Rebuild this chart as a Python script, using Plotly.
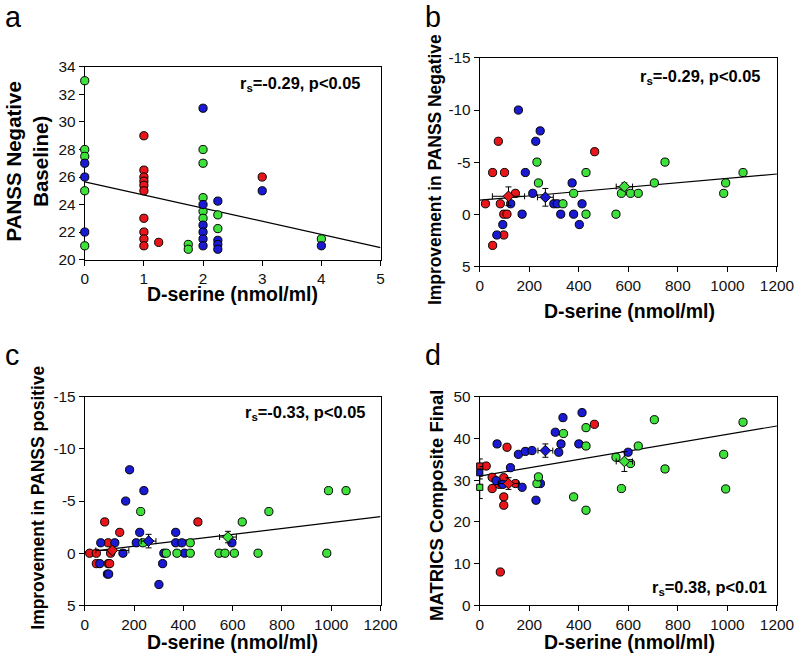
import plotly.graph_objects as go

RED = "#e8161b"
BLUE = "#1a1ad2"
GREEN = "#3ee03a"

# ---------------- Panel a ----------------
a_red_x = [1, 1, 1, 1, 1, 1, 1, 1, 1, 1, 1.25, 3]
a_red_y = [29, 26.5, 26, 25.7, 25.4, 25, 23, 22, 21.5, 21, 21.25, 26]
a_blue_x = [0, 0, 0, 2, 2, 2, 2, 2, 2, 2.25, 2.25, 2.25, 2.25, 3, 4]
a_blue_y = [27, 26, 22, 31, 24, 22.5, 22, 21.5, 21, 24.25, 21.4, 21.1, 20.75, 25, 21]
a_green_x = [0, 0, 0, 0, 0, 1.75, 1.75, 2, 2, 2, 2, 2, 2.25, 2.25, 4]
a_green_y = [33, 28, 27.5, 25, 21, 21.1, 20.75, 28, 27, 24.5, 23.5, 23, 23.25, 22.25, 21.5]
a_line_x = [0, 5]
a_line_y = [25.65, 20.87]

# ---------------- Panel b ----------------
b_red_x = [23, 52, 75, 83, 100, 97, 110, 97, 52, 144, 464]
b_red_y = [-1, -4, -7, -1, -4, 0, 0, 2, 3, -2, -6]
b_blue_x = [156, 125, 69, 93, 171, 184, 214, 226, 244, 299, 313, 327, 373, 379, 413, 402]
b_blue_y = [-10, -1, 2, 1, 0, -4, -2, -7, -8, -1, -1, 0, -3, 0, -1, 1]
b_green_x = [231, 237, 336, 379, 429, 429, 550, 572, 609, 640, 705, 748, 985, 993, 1063]
b_green_y = [-5, -3, -1, -2, -4, 0, 0, -2, -2, -2, -3, -5, -2, -3, -4]
b_mean_x = [116, 265, 584]
b_mean_y = [-1.72, -1.62, -2.65]
b_mean_ex = [65, 32, 33]
b_mean_ey = [0.9, 0.85, 0.35]
b_line_x = [0, 1200]
b_line_y = [-1.34, -3.86]

# ---------------- Panel c ----------------
c_red_x = [20, 47, 81, 95, 105, 142, 47, 95, 101, 459]
c_red_y = [0, 0, -3, -1, 0, -2, 1, 1, 1, -3]
c_blue_x = [65, 122, 155, 166, 182, 209, 223, 240, 61, 92, 97, 301, 316, 321, 369, 369, 394, 405, 597]
c_blue_y = [-1, -1, 0, -5, -8, -1, -2, -6, 1, 2, 2, 3, 1, 0, -2, -1, -1, 0, -1]
c_green_x = [227, 236, 331, 374, 428, 428, 545, 569, 607, 639, 703, 747, 982, 989, 1060]
c_green_y = [-4, -1, 0, 0, -1, 0, 0, 0, 0, -3, 0, -4, 0, -6, -6]
c_mean_x = [112, 259, 581]
c_mean_y = [-0.27, -1.16, -1.55]
c_mean_ex = [67, 30, 34]
c_mean_ey = [0.3, 0.65, 0.55]
c_line_x = [0, 1200]
c_line_y = [-0.1, -3.5]

# ---------------- Panel d ----------------
d_red_x = [26, 50, 50, 79, 97, 97, 97, 110, 144, 83, 463]
d_red_y = [33.4, 30.7, 28, 29, 30.6, 26, 24, 37.9, 29.2, 8, 43.4]
d_blue_x = [70, 156, 184, 211, 319, 328, 305, 400, 413, 336, 124, 66, 93, 171, 227, 245, 599]
d_blue_y = [38.7, 36.2, 36.9, 37.1, 36.7, 38.7, 41.5, 38.7, 46.2, 45, 33, 29.9, 29, 28.3, 25.2, 29.2, 36.7]
d_green_x = [338, 429, 429, 231, 237, 379, 429, 550, 572, 609, 640, 705, 748, 985, 993, 1063]
d_green_y = [41.2, 38.2, 42.6, 29.2, 30.8, 26, 22.8, 35.5, 28, 34, 38.2, 44.5, 32.7, 36.2, 27.9, 43.9]
d_mean_x = [116, 265, 584]
d_mean_y = [29.2, 37.1, 34.5]
d_mean_ex = [41, 30, 33]
d_mean_ey = [1.4, 1.6, 2.4]
d_base_x = [0, 0, 0]
d_base_y = [33.4, 31.8, 28.3]
d_base_ey = [1.7, 1.5, 2.7]
d_line_x = [0, 1200]
d_line_y = [31.0, 43.0]

GROUP_COLORS = [RED, BLUE, GREEN]

# Observed capture: picture = offset + K * page pixel; place everything
# in picture pixels and convert back to page pixels.
K = 0.975
OX, OY = 4.2, 9.3
W, H = 817, 665


def PX(x):
    return ((x - OX) / K) / W


def PY(y):
    return 1 - ((y - OY) / K) / H


def FS(s):
    return s / K


fig = go.Figure()


def add_points(x, y, color, ax):
    fig.add_trace(go.Scatter(
        x=x, y=y, mode="markers", xaxis="x" + ax, yaxis="y" + ax,
        marker=dict(size=FS(8), color=color, line=dict(color="black", width=1)),
        cliponaxis=False, showlegend=False, hoverinfo="skip"))


def add_line(x, y, ax):
    fig.add_trace(go.Scatter(
        x=x, y=y, mode="lines", xaxis="x" + ax, yaxis="y" + ax,
        line=dict(color="black", width=1.2), showlegend=False, hoverinfo="skip"))


def add_means(x, y, ex, ey, ax, symbol="diamond", size=8):
    for i in range(len(x)):
        if ex is not None:
            err_x = dict(type="data", array=[ex[i]], color="black", thickness=1, width=3)
        else:
            err_x = dict(visible=False)
        fig.add_trace(go.Scatter(
            x=[x[i]], y=[y[i]], mode="markers", xaxis="x" + ax, yaxis="y" + ax,
            marker=dict(size=FS(size), symbol=symbol, color=GROUP_COLORS[i],
                        line=dict(color="black", width=1)),
            error_x=err_x,
            error_y=dict(type="data", array=[ey[i]], color="black", thickness=1, width=3),
            cliponaxis=False, showlegend=False, hoverinfo="skip"))


# Panel a
add_line(a_line_x, a_line_y, "")
add_points(a_red_x, a_red_y, RED, "")
add_points(a_green_x, a_green_y, GREEN, "")
add_points(a_blue_x, a_blue_y, BLUE, "")

# Panel b
add_line(b_line_x, b_line_y, "2")
add_points(b_red_x, b_red_y, RED, "2")
add_points(b_blue_x, b_blue_y, BLUE, "2")
add_points(b_green_x, b_green_y, GREEN, "2")
add_means(b_mean_x, b_mean_y, b_mean_ex, b_mean_ey, "2")

# Panel c
add_line(c_line_x, c_line_y, "3")
add_points(c_red_x, c_red_y, RED, "3")
add_points(c_blue_x, c_blue_y, BLUE, "3")
add_points(c_green_x, c_green_y, GREEN, "3")
add_means(c_mean_x, c_mean_y, c_mean_ex, c_mean_ey, "3")

# Panel d
add_line(d_line_x, d_line_y, "4")
add_points(d_red_x, d_red_y, RED, "4")
add_points(d_blue_x, d_blue_y, BLUE, "4")
add_points(d_green_x, d_green_y, GREEN, "4")
add_means(d_mean_x, d_mean_y, d_mean_ex, d_mean_ey, "4")
add_means(d_base_x, d_base_y, None, d_base_ey, "4", symbol="square", size=6)

FONT = "Liberation Sans, Arial, sans-serif"


def axis(domain, rng, tickvals, ticktext=None, anchor=None):
    d = dict(domain=domain, range=rng, tickvals=tickvals, showgrid=False, zeroline=False,
             showline=True, linecolor="black", linewidth=1, mirror=True,
             ticks="outside", ticklen=5, tickcolor="black", tickwidth=1,
             tickfont=dict(family=FONT, size=FS(15), color="#111"), layer="below traces",
             anchor=anchor)
    if ticktext is not None:
        d["ticktext"] = ticktext
    return d


neg_vals = [-15, -10, -5, 0, 5]
neg_text = ["-15", "-10", "-5", "0", "5"]
ser_vals = [0, 200, 400, 600, 800, 1000, 1200]

XL = [PX(85), PX(381)]
XR = [PX(480.3), PX(777.7)]

fig.update_layout(
    width=W, height=H, margin=dict(l=0, r=0, t=0, b=0),
    paper_bgcolor="white", plot_bgcolor="white",
    font=dict(family=FONT, color="black"),
    xaxis=axis(XL, [0, 5], [0, 1, 2, 3, 4, 5], anchor="y"),
    yaxis=axis([PY(260), PY(67.3)], [20, 34], list(range(20, 35, 2)), anchor="x"),
    xaxis2=axis(XR, [0, 1200], ser_vals, anchor="y2"),
    yaxis2=axis([PY(266.7), PY(58.3)], [5, -15], neg_vals, neg_text, anchor="x2"),
    xaxis3=axis(XL, [0, 1200], ser_vals, anchor="y3"),
    yaxis3=axis([PY(606), PY(397.3)], [5, -15], neg_vals, neg_text, anchor="x3"),
    xaxis4=axis(XR, [0, 1200], ser_vals, anchor="y4"),
    yaxis4=axis([PY(606), PY(397.3)], [0, 50], [0, 10, 20, 30, 40, 50], anchor="x4"),
)


def ann(text, x, y, size=19, bold=True, angle=0, xanchor="center", yanchor="middle"):
    t = "<b>" + text + "</b>" if bold else text
    fig.add_annotation(text=t, x=PX(x), y=PY(y), xref="paper", yref="paper",
                       showarrow=False, textangle=angle, xanchor=xanchor, yanchor=yanchor,
                       font=dict(family=FONT, size=FS(size), color="black"))


# panel letters
ann("a", 3, 17, size=28, bold=False, xanchor="left")
ann("b", 424, 17, size=28, bold=False, xanchor="left")
ann("c", 3, 356, size=28, bold=False, xanchor="left")
ann("d", 424, 356, size=28, bold=False, xanchor="left")

# y titles
ann("PANSS Negative<br>Baseline)", 27, 162, size=20, angle=-90)
ann("Improvement in PANSS Negative", 435, 170, size=17, angle=-90)
ann("Improvement in PANSS positive", 38, 498.5, size=17, angle=-90)
ann("MATRICS Composite Final", 437, 506, size=18, angle=-90)

# x titles
ann("D-serine (nmol/ml)", 233, 294)
ann("D-serine (nmol/ml)", 630, 311)
ann("D-serine (nmol/ml)", 233, 643)
ann("D-serine (nmol/ml)", 630, 643)

# statistics
ann("r<sub>s</sub>=-0.29, p&lt;0.05", 362, 84, size=16, xanchor="right")
ann("r<sub>s</sub>=-0.29, p&lt;0.05", 763, 77, size=16, xanchor="right")
ann("r<sub>s</sub>=-0.33, p&lt;0.05", 367, 414, size=16, xanchor="right")
ann("r<sub>s</sub>=0.38, p&lt;0.01", 770, 589, size=16, xanchor="right")

# remove the page's default body margin so the figure starts at the window corner
fig.write_html("out.html", config={"displayModeBar": False},
               post_script="document.body.style.margin='0';document.body.style.overflow='hidden';")
